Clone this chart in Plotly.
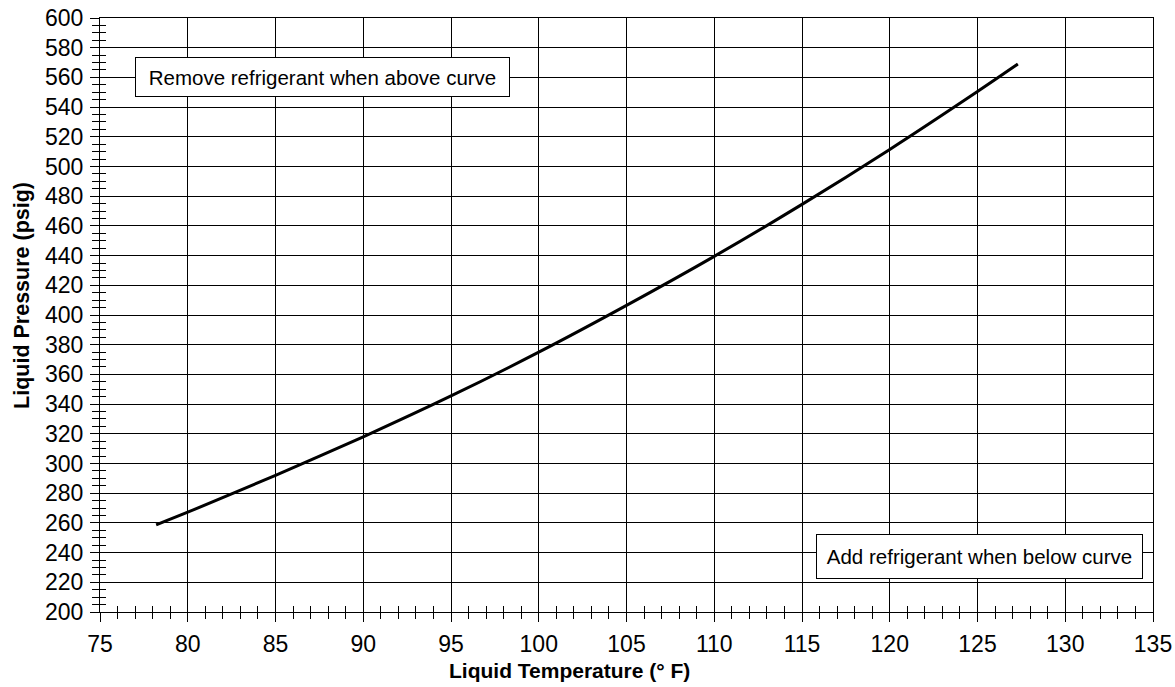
import plotly.graph_objects as go

temperature_f = [78.2, 80, 85, 90, 95, 100, 105, 110, 115, 120, 125, 127.3]
pressure_psig = [258.7, 267.2, 292, 318, 345.5, 375, 406.5, 439.5, 474.5, 511.5, 550.5, 569]

x_ticks = list(range(75, 136, 5))
y_ticks = list(range(200, 601, 20))

FONT = "Arial, Liberation Sans, sans-serif"

fig = go.Figure()
fig.add_trace(go.Scatter(
    x=temperature_f, y=pressure_psig, mode="lines",
    line=dict(color="black", width=3, shape="spline", smoothing=0.8),
    showlegend=False, hoverinfo="skip",
))
# helper trace for the overlay axes (inside tick marks)
fig.add_trace(go.Scatter(x=[None], y=[None], xaxis="x2", yaxis="y2",
                         showlegend=False, hoverinfo="skip"))

common_x = dict(range=[75, 135], tickvals=x_ticks, showline=True, linecolor="black",
                linewidth=1, zeroline=False, automargin=False)
common_y = dict(range=[200, 600], tickvals=y_ticks, showline=True, linecolor="black",
                linewidth=1, zeroline=False, automargin=False)

fig.update_layout(
    width=1175, height=687,
    margin=dict(l=100, r=22, t=18, b=75, autoexpand=False),
    paper_bgcolor="white", plot_bgcolor="white",
    font=dict(family=FONT, color="black", size=23),
    xaxis=dict(**common_x, mirror=True, showgrid=True, gridcolor="black", gridwidth=1,
               ticks="outside", ticklen=9, tickwidth=1, tickcolor="black",
               ticklabelstandoff=2, ticklabeloverflow="allow",
               tickfont=dict(size=23, family=FONT),
               minor=dict(dtick=1, ticks="outside", ticklen=6, tickcolor="black",
                          tickwidth=1, showgrid=False)),
    yaxis=dict(**common_y, mirror=True, showgrid=True, gridcolor="black", gridwidth=1,
               ticks="outside", ticklen=9, tickwidth=1, tickcolor="black",
               ticklabelstandoff=2, ticklabeloverflow="allow",
               tickfont=dict(size=23, family=FONT),
               minor=dict(dtick=5, ticks="outside", ticklen=7, tickcolor="black",
                          tickwidth=1, showgrid=False)),
    xaxis2=dict(**common_x, overlaying="x", anchor="y2", side="bottom", showgrid=False,
                showticklabels=False, ticks="inside", ticklen=7, tickcolor="black",
                minor=dict(dtick=1, ticks="inside", ticklen=6, tickcolor="black",
                           showgrid=False)),
    yaxis2=dict(**common_y, overlaying="y", anchor="x2", side="left", showgrid=False,
                showticklabels=False, ticks="inside", ticklen=7, tickcolor="black",
                minor=dict(dtick=5, ticks="inside", ticklen=6, tickcolor="black",
                           showgrid=False)),
)

fig.add_annotation(
    x=87.68, y=560.3, xref="x", yref="y",
    text="Remove refrigerant when above curve", showarrow=False,
    font=dict(size=20.5, family=FONT, color="black"),
    bgcolor="white", bordercolor="black", borderwidth=1, borderpad=0,
    width=373, height=38,
)
fig.add_annotation(
    x=125.13, y=237.4, xref="x", yref="y",
    text="Add refrigerant when below curve", showarrow=False,
    font=dict(size=20.5, family=FONT, color="black"),
    bgcolor="white", bordercolor="black", borderwidth=1, borderpad=0,
    width=325, height=43,
)
# axis titles
fig.add_annotation(
    x=0.446, y=-0.099, xref="paper", yref="paper", yanchor="middle",
    text="<b>Liquid Temperature (° F)</b>", showarrow=False,
    font=dict(size=21, family=FONT, color="black"),
)
fig.add_annotation(
    x=-0.0741, y=0.5337, xref="paper", yref="paper", xanchor="center", yanchor="middle",
    text="<b>Liquid Pressure (psig)</b>", showarrow=False, textangle=-90,
    font=dict(size=21.5, family=FONT, color="black"),
)

fig.write_html(
    "out.html",
    config={"displayModeBar": False, "staticPlot": True},
    post_script="document.body.style.margin='0px';document.body.style.overflow='hidden';",
)
